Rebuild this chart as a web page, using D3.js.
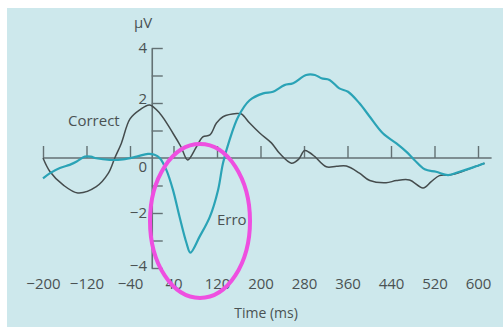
<!DOCTYPE html>
<html><head><meta charset="utf-8">
<script src="https://cdn.jsdelivr.net/npm/d3@7"></script>
<style>html,body{margin:0;padding:0;background:#fff;}svg{display:block;}</style>
</head><body>
<svg id="c" width="503" height="327"></svg>
<script>
const xTicks = [-200,-120,-40,40,120,200,280,360,440,520,600];
const yTicks = [-4,-3,-2,-1,1,2,3,4];
const yLabels = [-4,-2,0,2,4];
const correctTime = [-200,-187,-163,-136,-102,-80,-68,-56,-40,-22,-4,15,39,54,66,82,94,107,119,131,156,165,180,199,220,235,257,270,281,290,300,321,340,358,382,401,431,450,474,499,514,529,548,570,591,612];
const correctUV   = [0,-0.5,-0.98,-1.27,-1.04,-0.56,0,0.53,1.42,1.75,1.93,1.62,0.9,0.4,-0.07,0.4,0.77,0.84,1.27,1.5,1.62,1.6,1.27,0.9,0.55,0.17,-0.19,-0.05,0.27,0.2,0.05,-0.32,-0.3,-0.29,-0.55,-0.82,-0.9,-0.82,-0.8,-1.09,-0.86,-0.64,-0.62,-0.5,-0.34,-0.19];
const errorTime = [-200,-187,-169,-151,-138,-123,-112,-102,-77,-53,-28,-7,5,15,27,39,51,64,71,88,107,122,131,143,159,180,205,223,244,260,284,300,312,327,345,361,382,401,425,450,468,483,502,523,545,566,591,612];
const errorUV   = [-0.74,-0.55,-0.36,-0.25,-0.13,0.05,0.05,-0.01,-0.07,-0.05,0.05,0.15,0.12,-0.01,-0.44,-1.16,-2.13,-3.1,-3.44,-2.86,-2.13,-1.16,-0.19,0.65,1.5,2.1,2.35,2.41,2.65,2.72,3.02,3.02,2.9,2.84,2.53,2.41,1.99,1.5,0.9,0.53,0.23,-0.07,-0.41,-0.5,-0.62,-0.5,-0.34,-0.19];

const svg = d3.select("#c");
const x = d3.scaleLinear().domain([-200,600]).range([43,478]);
const y = d3.scaleLinear().domain([-4,4]).range([268,48]);
const font = "'Open Sans', sans-serif";
const txt = "#4a5253";
const axisCol = "#637174";

svg.append("rect").attr("x",7).attr("y",8).attr("width",496).attr("height",319).attr("fill","#cde8ec");

// zero line
svg.append("line").attr("x1",x(-200)).attr("x2",x(625)).attr("y1",y(0)).attr("y2",y(0))
  .attr("stroke",axisCol).attr("stroke-width",1.6);

// x ticks (upward)
const xa = svg.append("g").attr("transform",`translate(0,${y(0)})`)
  .call(d3.axisTop(x).tickValues(xTicks).tickSize(12).tickFormat(""));
xa.select(".domain").remove();
xa.selectAll("line").attr("stroke",axisCol).attr("stroke-width",1.4);

// x labels
const xl = svg.append("g").attr("transform","translate(0,284)")
  .call(d3.axisBottom(x).tickValues(xTicks).tickSize(0).tickFormat(d=>d<0?"\u2212"+Math.abs(d):d));
xl.select(".domain").remove();
xl.selectAll("text").attr("font-family",font).attr("font-size",15).attr("fill",txt).attr("dy","0.15em");

// y axis
const ya = svg.append("g").attr("transform",`translate(${x(0)},0)`)
  .call(d3.axisRight(y).tickValues(yTicks).tickSize(11).tickSizeOuter(0).tickFormat(""));
ya.select(".domain").attr("stroke",axisCol).attr("stroke-width",1.6);
ya.selectAll(".tick line").attr("stroke",axisCol).attr("stroke-width",1.4);

// y labels
svg.append("g").selectAll("text").data(yLabels).join("text")
  .attr("x",147).attr("y",d=>y(d)+(d===0?9:(d===2?-4:(d===-4?-2:0)))).attr("dy","0.36em")
  .attr("text-anchor","end").attr("font-family",font).attr("font-size",15).attr("fill",txt)
  .text(d=>d<0?"\u2212"+Math.abs(d):d);

svg.append("text").attr("x",143).attr("y",23).attr("dy","0.36em").attr("text-anchor","middle")
  .attr("font-family",font).attr("font-size",15).attr("fill",txt).text("\u00b5V");
svg.append("text").attr("x",266).attr("y",313).attr("dy","0.36em").attr("text-anchor","middle")
  .attr("font-family",font).attr("font-size",14).attr("fill",txt).text("Time (ms)");

const line = d3.line().x(d=>x(d[0])).y(d=>y(d[1])).curve(d3.curveCatmullRom.alpha(0.5));
svg.append("path").datum(d3.zip(correctTime,correctUV)).attr("d",line)
  .attr("fill","none").attr("stroke","#454c4d").attr("stroke-width",1.5);
svg.append("path").datum(d3.zip(errorTime,errorUV)).attr("d",line)
  .attr("fill","none").attr("stroke","#2aa3b6").attr("stroke-width",2.2);

svg.append("text").attr("x",68).attr("y",121).attr("dy","0.36em")
  .attr("font-family",font).attr("font-size",15).attr("fill",txt).text("Correct");
svg.append("text").attr("x",217).attr("y",220).attr("dy","0.36em")
  .attr("font-family",font).attr("font-size",15).attr("fill",txt).text("Erro");

svg.append("ellipse").attr("cx",200).attr("cy",221).attr("rx",50).attr("ry",77)
  .attr("fill","none").attr("stroke","#ee4fe0").attr("stroke-width",4);
</script>
</body></html>
